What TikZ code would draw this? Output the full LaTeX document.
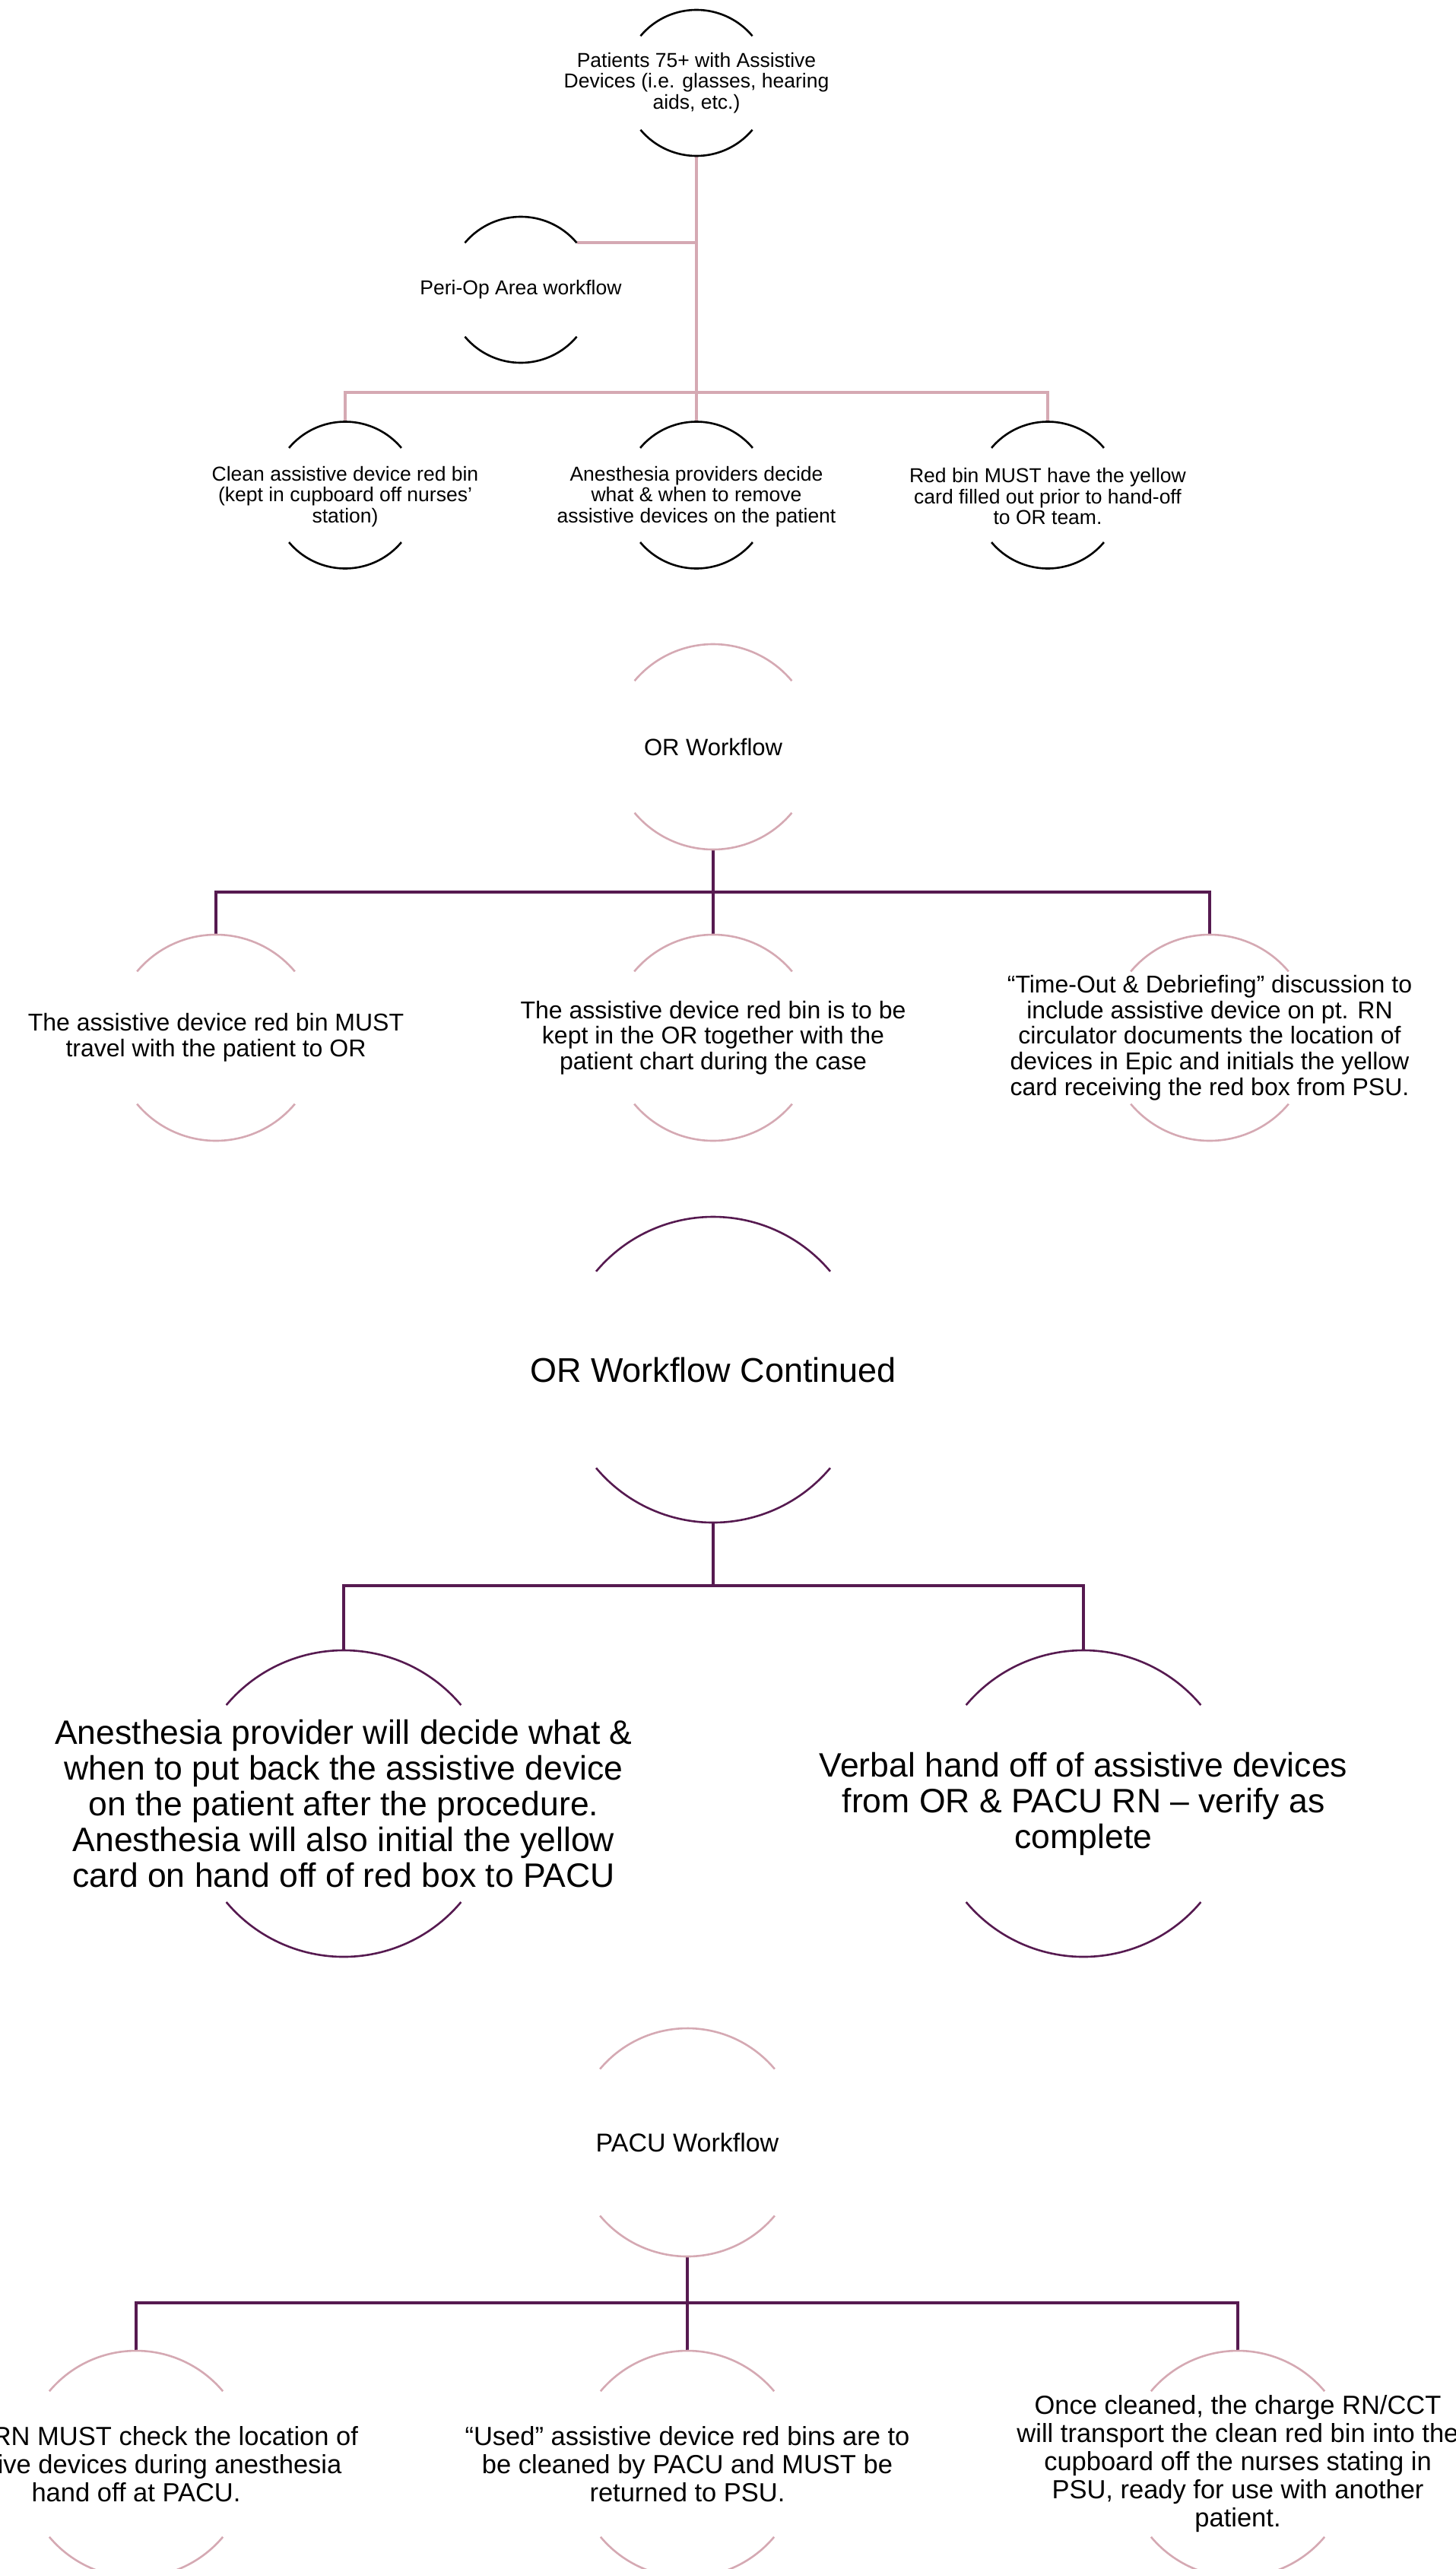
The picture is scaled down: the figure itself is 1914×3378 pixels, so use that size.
\documentclass[tikz,border=0pt]{standalone}
\usepackage{fontspec}
\setmainfont{Liberation Sans}
\definecolor{plum}{HTML}{561A50}
\definecolor{rose}{HTML}{D5A9B3}
\tikzset{
  ring/.style={circle, draw=none, inner sep=0pt, outer sep=0pt, minimum size=#1},
  arcK/.style={draw=black, line width=2.6pt},
  arcR/.style={draw=rose, line width=2.6pt},
  arcP/.style={draw=plum, line width=2.6pt},
  linkR/.style={draw=rose, line width=4pt},
  linkP/.style={draw=plum, line width=3.4pt},
  txtA/.style={align=center, inner sep=0pt, font=\fontsize{26.5}{27.5}\selectfont},
  txtB/.style={align=center, inner sep=0pt, font=\fontsize{32}{33.7}\selectfont},
  txtC/.style={align=center, inner sep=0pt, font=\fontsize{44.5}{47}\selectfont},
  txtD/.style={align=center, inner sep=0pt, font=\fontsize{34.5}{37}\selectfont},
  ttlB/.style={align=center, inner sep=0pt, font=\fontsize{31}{33}\selectfont},
  ttlC/.style={align=center, inner sep=0pt, font=\fontsize{45}{48}\selectfont},
  ttlD/.style={align=center, inner sep=0pt, font=\fontsize{34}{37}\selectfont},
}
\newcommand\ringarcs[3]{%
  \draw[#3] (#1.140) arc[start angle=140, end angle=40, radius=#2];
  \draw[#3] (#1.220) arc[start angle=220, end angle=320, radius=#2];
}
\begin{document}
\begin{tikzpicture}[x=1pt, y=1pt]
\useasboundingbox (0,0) rectangle (1914,-3378);
\clip (0,0) rectangle (1914,-3378);

% ---------- Section 1: Peri-Op ----------
\node[ring=192pt] (top) at (916,-109) {};
\node[ring=192pt] (peri) at (685,-381) {};
\node[ring=193pt] (a1) at (454,-651) {};
\node[ring=193pt] (a2) at (916,-651) {};
\node[ring=193pt] (a3) at (1378,-651) {};
\coordinate (j1) at (916,-516);

\draw[linkR] (top.south) -- (j1);
\draw[linkR] (peri.40) -- (peri.40 -| top.south);
\draw[linkR] (a1.north) |- (j1) -| (a3.north);
\draw[linkR] (j1) -- (a2.north);

\ringarcs{top}{96pt}{arcK}
\ringarcs{peri}{96pt}{arcK}
\ringarcs{a1}{96.5pt}{arcK}
\ringarcs{a2}{96.5pt}{arcK}
\ringarcs{a3}{96.5pt}{arcK}

\node[txtA] (topT) at (top.center) {Patients 75+ with Assistive\\Devices (i.e. glasses, hearing\\aids, etc.)};
\node[txtA] (periT) at (peri.center) {Peri-Op Area workflow};
\node[txtA] (a1T) at ([yshift=-2pt]a1.center) {Clean assistive device red bin\\(kept in cupboard off nurses’\\station)};
\node[txtA] (a2T) at ([yshift=-2pt]a2.center) {Anesthesia providers decide\\what \& when to remove\\assistive devices on the patient};
\node[txtA] (a3T) at ([yshift=-2pt]a3.center) {Red bin MUST have the yellow\\card filled out prior to hand-off\\to OR team.};

% ---------- Section 2: OR Workflow ----------
\node[ring=270pt] (or) at (938,-982) {};
\node[ring=271pt] (b1) at (284,-1364.5) {};
\node[ring=271pt] (b2) at (938,-1364.5) {};
\node[ring=271pt] (b3) at (1591,-1364.5) {};
\coordinate (j2) at (938,-1173);

\draw[linkP] (or.south) -- (j2);
\draw[linkP] (b1.north) |- (j2) -| (b3.north);
\draw[linkP] (j2) -- (b2.north);

\ringarcs{or}{135pt}{arcR}
\ringarcs{b1}{135.5pt}{arcR}
\ringarcs{b2}{135.5pt}{arcR}
\ringarcs{b3}{135.5pt}{arcR}

\node[ttlB] (orT) at (or.center) {OR Workflow};
\node[txtB] (b1T) at (b1.center) {The assistive device red bin MUST\\travel with the patient to OR};
\node[txtB] (b2T) at (b2.center) {The assistive device red bin is to be\\kept in the OR together with the\\patient chart during the case};
\node[txtB] (b3T) at (b3.center) {“Time-Out \& Debriefing” discussion to\\include assistive device on pt. RN\\circulator documents the location of\\devices in Epic and initials the yellow\\card receiving the red box from PSU.};

% ---------- Section 3: OR Workflow Continued ----------
\node[ring=402pt] (orc) at (938,-1801) {};
\node[ring=403pt] (c1) at (452,-2371.5) {};
\node[ring=403pt] (c2) at (1425,-2371.5) {};
\coordinate (j3) at (938,-2085);

\draw[linkP] (orc.south) -- (j3);
\draw[linkP] (c1.north) |- (j3) -| (c2.north);

\ringarcs{orc}{201pt}{arcP}
\ringarcs{c1}{201.5pt}{arcP}
\ringarcs{c2}{201.5pt}{arcP}

\node[ttlC] (orcT) at (orc.center) {OR Workflow Continued};
\node[txtC] (c1T) at (c1.center) {Anesthesia provider will decide what \&\\when to put back the assistive device\\on the patient after the procedure.\\Anesthesia will also initial the yellow\\card on hand off of red box to PACU};
\node[txtC] (c2T) at (c2.center) {Verbal hand off of assistive devices\\from OR \& PACU RN – verify as\\complete};

% ---------- Section 4: PACU Workflow ----------
\node[ring=300pt] (pacu) at (904,-2817) {};
\node[ring=298pt] (d1) at (179,-3240) {};
\node[ring=298pt] (d2) at (904,-3240) {};
\node[ring=298pt] (d3) at (1628,-3240) {};
\coordinate (j4) at (904,-3028);

\draw[linkP] (pacu.south) -- (j4);
\draw[linkP] (d1.north) |- (j4) -| (d3.north);
\draw[linkP] (j4) -- (d2.north);

\ringarcs{pacu}{150pt}{arcR}
\ringarcs{d1}{149pt}{arcR}
\ringarcs{d2}{149pt}{arcR}
\ringarcs{d3}{149pt}{arcR}

\node[ttlD] (pacuT) at (pacu.center) {PACU Workflow};
\node[txtD] (d1T) at (d1.center) {PACU RN MUST check the location of\\assistive devices during anesthesia\\hand off at PACU.};
\node[txtD] (d2T) at (d2.center) {“Used” assistive device red bins are to\\be cleaned by PACU and MUST be\\returned to PSU.};
\node[txtD] (d3T) at (d3.center) {Once cleaned, the charge RN/CCT\\will transport the clean red bin into the\\cupboard off the nurses stating in\\PSU, ready for use with another\\patient.};
\end{tikzpicture}
\end{document}
